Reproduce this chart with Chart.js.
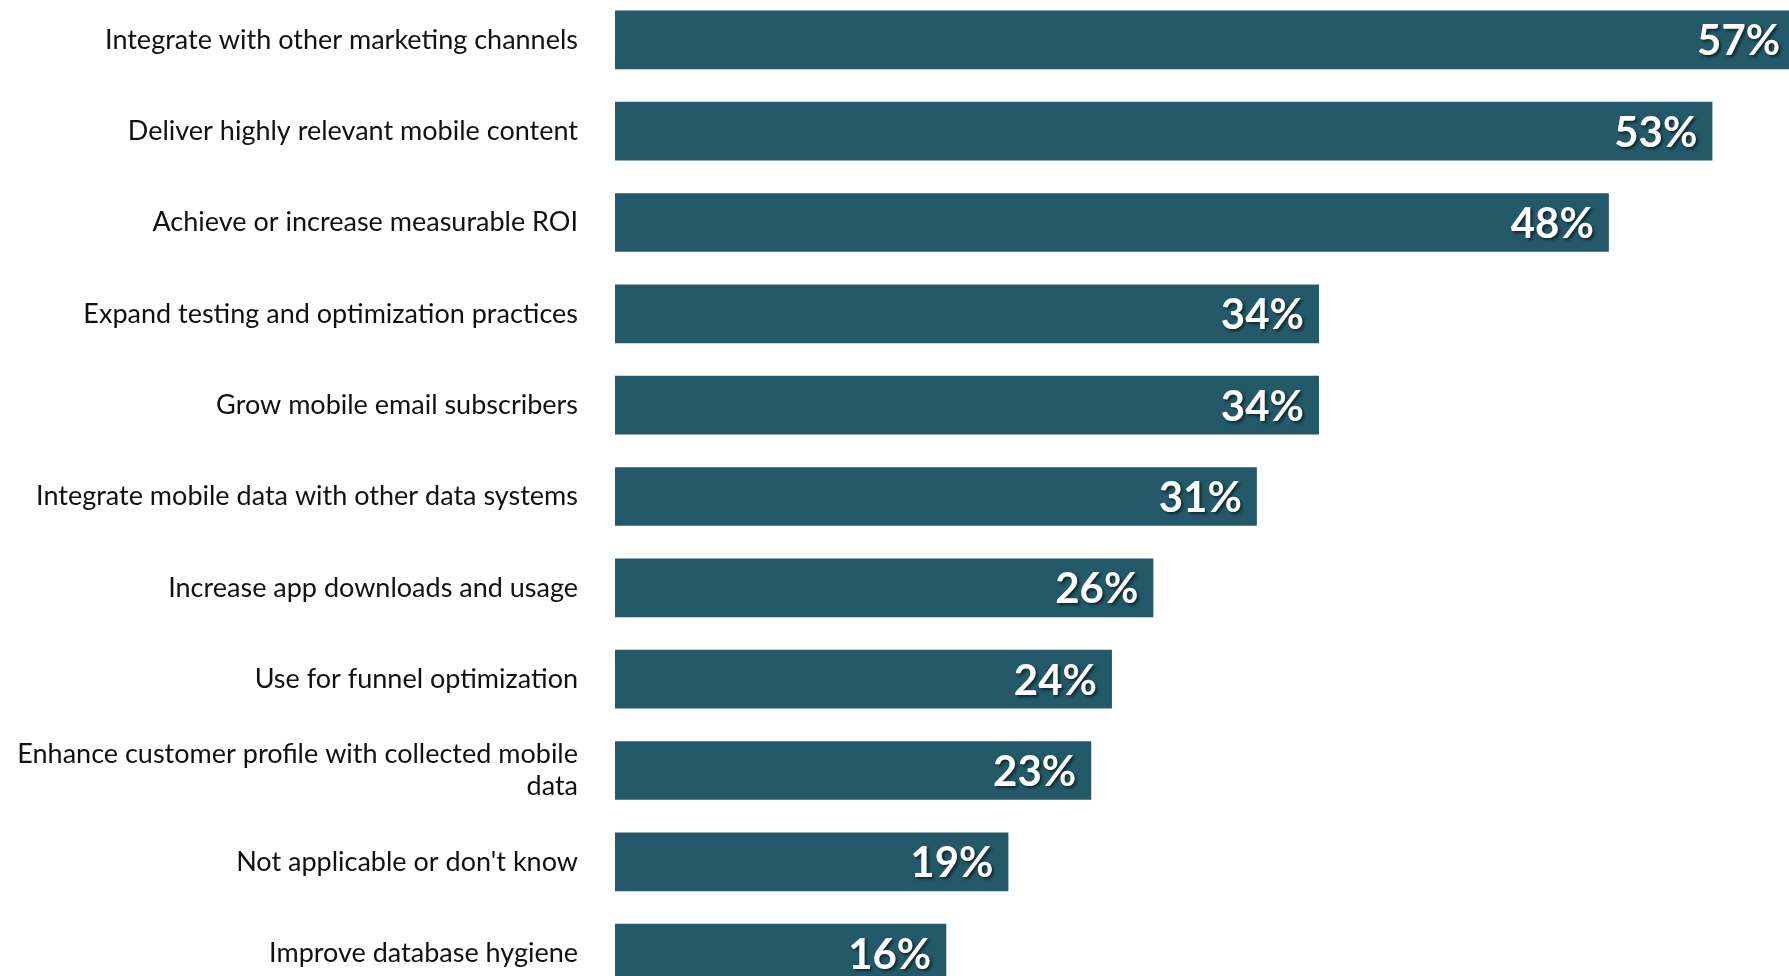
<!DOCTYPE html>
<html>
<head>
<meta charset="utf-8">
<script src="https://cdn.jsdelivr.net/npm/chart.js@4/dist/chart.umd.min.js"></script>
<style>
  html, body { margin: 0; padding: 0; background: #ffffff; overflow: hidden; width: 1789px; height: 976px; }
  #wrap { position: absolute; left: 0; top: -59px; width: 1789px; height: 1111px; }
</style>
</head>
<body>
<div id="wrap"><canvas id="c"></canvas></div>
<script>
const categories = [
  "Integrate with other marketing channels",
  "Deliver highly relevant mobile content",
  "Achieve or increase measurable ROI",
  "Expand testing and optimization practices",
  "Grow mobile email subscribers",
  "Integrate mobile data with other data systems",
  "Increase app downloads and usage",
  "Use for funnel optimization",
  ["Enhance customer profile with collected mobile", "data"],
  "Not applicable or don't know",
  "Improve database hygiene"
];
const values = [57, 53, 48, 34, 34, 31, 26, 24, 23, 19, 16];
const valueSuffix = "%";

const barColor = "#235968";

const valueLabels = {
  id: 'valueLabels',
  afterDatasetsDraw(chart) {
    const ctx = chart.ctx;
    const meta = chart.getDatasetMeta(0);
    ctx.save();
    ctx.font = "bold 42px Lato, 'Open Sans', sans-serif";
    ctx.textAlign = "right";
    ctx.textBaseline = "middle";
    ctx.shadowColor = "rgba(0,0,0,0.55)";
    ctx.shadowOffsetX = 2;
    ctx.shadowOffsetY = 2;
    ctx.shadowBlur = 3;
    ctx.fillStyle = "#ffffff";
    meta.data.forEach((bar, i) => {
      ctx.fillText(values[i] + valueSuffix, bar.x - 15, bar.y + 2);
    });
    ctx.restore();
  }
};

new Chart(document.getElementById('c'), {
  type: 'bar',
  data: {
    labels: categories,
    datasets: [{
      data: values,
      backgroundColor: barColor,
      borderWidth: 0,
      barPercentage: 0.642,
      categoryPercentage: 1.0
    }]
  },
  options: {
    indexAxis: 'y',
    responsive: true,
    maintainAspectRatio: false,
    animation: false,
    layout: { padding: 0 },
    plugins: { legend: { display: false }, tooltip: { enabled: false } },
    scales: {
      x: {
        display: false,
        min: 0,
        max: 56.7,
        grid: { display: false }
      },
      y: {
        grid: { display: false, drawTicks: false },
        border: { display: false },
        afterFit(scale) { scale.width = 615; },
        ticks: {
          color: "#111111",
          padding: 37,
          font: { family: "Lato, 'Open Sans', sans-serif", size: 27 },
          lineHeight: 1.25
        }
      }
    }
  },
  plugins: [valueLabels]
});
</script>
</body>
</html>
